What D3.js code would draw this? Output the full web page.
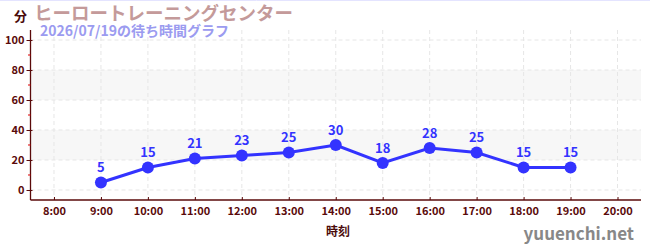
<!DOCTYPE html>
<html>
<head>
<meta charset="utf-8">
<script src="https://cdn.jsdelivr.net/npm/d3@7"></script>
<style>
  body { margin: 0; background: #fff; }
  svg { display: block; font-family: "Noto Sans CJK JP", "Noto Sans", sans-serif; }
</style>
</head>
<body>
<div id="chart"></div>
<script>
var hours = [9, 10, 11, 12, 13, 14, 15, 16, 17, 18, 19];
var waits = [5, 15, 21, 23, 25, 30, 18, 28, 25, 15, 15];
var tickHours = [8, 9, 10, 11, 12, 13, 14, 15, 16, 17, 18, 19, 20];
var yTicks = [0, 20, 40, 60, 80, 100];
var yMinor = [10, 30, 50, 70, 90];
var bands = [[20, 40], [60, 80]];

var width = 650, height = 250;
var axisColor = "#5a0a0a", blue = "#3333ff";

var svg = d3.select("#chart").append("svg")
    .attr("width", width)
    .attr("height", height);

// top border
svg.append("line")
    .attr("x1", 0).attr("x2", width).attr("y1", 0.5).attr("y2", 0.5)
    .style("stroke", "#e4e4ff");

var x = d3.scaleLinear().domain([7.5, 20.5]).range([30.5, 641]);
var y = d3.scaleLinear().domain([-6.67, 106.67]).range([200, 30]);

// bands
svg.append("g").selectAll("rect")
    .data(bands)
  .enter().append("rect")
    .attr("x", x(7.5)).attr("width", x(20.5) - x(7.5))
    .attr("y", function(d) { return y(d[1]); })
    .attr("height", function(d) { return y(d[0]) - y(d[1]); })
    .style("fill", "#f7f7f7");

// grid
var grid = svg.append("g")
    .style("stroke", "#e6e6e6")
    .style("stroke-dasharray", "4,3");

grid.selectAll(".gx")
    .data(tickHours)
  .enter().append("line")
    .attr("x1", function(d) { return x(d); }).attr("x2", function(d) { return x(d); })
    .attr("y1", y(106.67)).attr("y2", 200);

grid.selectAll(".gy")
    .data(yTicks)
  .enter().append("line")
    .attr("x1", x(7.5)).attr("x2", 641)
    .attr("y1", function(d) { return y(d); }).attr("y2", function(d) { return y(d); });

// y axis
var yAxis = svg.append("g")
    .attr("transform", "translate(30.5,0)")
    .call(d3.axisLeft(y).tickValues(yTicks).tickSize(4).tickPadding(2));
yAxis.selectAll(".tick line").attr("x2", -4).attr("x1", 2);

svg.append("g").selectAll("line")
    .data(yMinor)
  .enter().append("line")
    .attr("x1", 28).attr("x2", 30.5)
    .attr("y1", function(d) { return y(d); }).attr("y2", function(d) { return y(d); })
    .style("stroke", "#dd0000");

// x axis
var xAxis = svg.append("g")
    .attr("transform", "translate(0,200)")
    .call(d3.axisBottom(x).tickValues(tickHours)
      .tickFormat(function(d) { return d + ":00"; })
      .tickSize(0).tickPadding(7));
xAxis.selectAll(".tick line").attr("y1", -3).attr("y2", 0).style("stroke", axisColor);

[yAxis, xAxis].forEach(function(a) {
  a.select(".domain").style("stroke", axisColor).style("stroke-width", 1.3);
  a.selectAll(".tick line").style("stroke", axisColor);
  a.selectAll("text")
      .style("fill", axisColor)
      .style("font-size", "11px")
      .style("font-weight", "bold")
      .style("font-family", "'Noto Sans CJK JP', sans-serif");
});
yAxis.select(".domain").attr("d", "M0,30V200");
xAxis.select(".domain").attr("d", "M30.5,0H641");

// line
var line = d3.line()
    .x(function(d, i) { return x(hours[i]); })
    .y(function(d) { return y(d); });

svg.append("path")
    .datum(waits)
    .attr("d", line)
    .style("fill", "none")
    .style("stroke", blue)
    .style("stroke-width", 3);

svg.append("g").selectAll("circle")
    .data(waits)
  .enter().append("circle")
    .attr("cx", function(d, i) { return x(hours[i]); })
    .attr("cy", function(d) { return y(d); })
    .attr("r", 6)
    .style("fill", blue);

svg.append("g").selectAll("text")
    .data(waits)
  .enter().append("text")
    .attr("x", function(d, i) { return x(hours[i]); })
    .attr("y", function(d) { return y(d) - 10; })
    .attr("text-anchor", "middle")
    .style("fill", blue)
    .style("font-size", "13px")
    .style("font-weight", "bold")
    .text(function(d) { return d; });

// titles
svg.append("text")
    .attr("x", 14).attr("y", 21)
    .style("fill", "#4a0a0a").style("font-size", "13px").style("font-weight", "bold")
    .text("分");

svg.append("text")
    .attr("x", 34).attr("y", 20)
    .style("fill", "#c49a9a").style("font-size", "18.5px").style("font-weight", "bold")
    .text("ヒーロートレーニングセンター");

svg.append("text")
    .attr("x", 40).attr("y", 36)
    .style("fill", "#9b9bf0").style("font-size", "14px").style("font-weight", "bold")
    .text("2026/07/19の待ち時間グラフ");

svg.append("text")
    .attr("x", 338).attr("y", 236)
    .attr("text-anchor", "middle")
    .style("fill", "#4a0a0a").style("font-size", "12px").style("font-weight", "bold")
    .text("時刻");

svg.append("text")
    .attr("x", 634).attr("y", 240)
    .attr("text-anchor", "end")
    .style("fill", "#888").style("font-size", "17px").style("font-weight", "bold")
    .text("yuuenchi.net");
</script>
</body>
</html>
